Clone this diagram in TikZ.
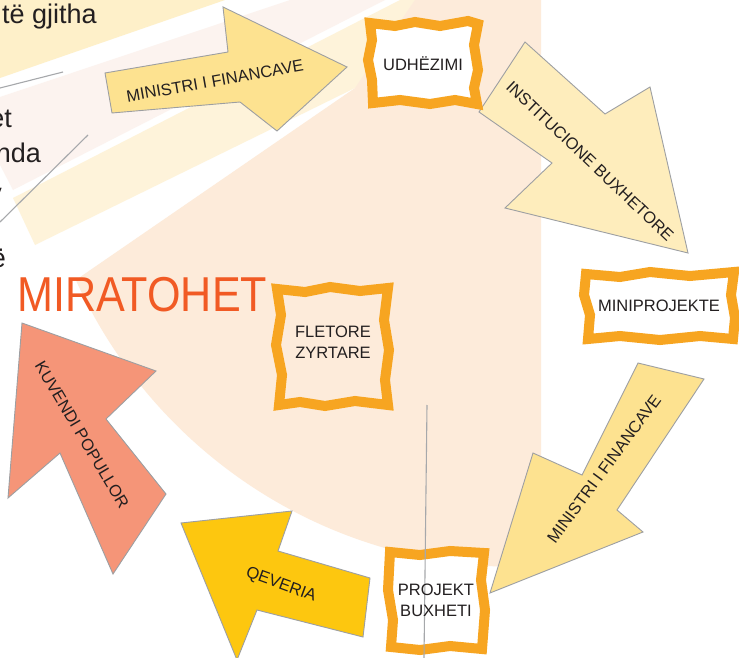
\documentclass[tikz,border=0pt]{standalone}
\usepackage{fontspec}
\setmainfont{Liberation Sans}
\definecolor{peach}{HTML}{FDEBDA}
\definecolor{rayA}{HTML}{FEF0C9}
\definecolor{rayB}{HTML}{FCF3EF}
\definecolor{rayC}{HTML}{FEF3DA}
\definecolor{arrowgold}{HTML}{FDE290}
\definecolor{arrowpale}{HTML}{FEEDBC}
\definecolor{arrowdeep}{HTML}{FDC70F}
\definecolor{arrowsalmon}{HTML}{F59578}
\definecolor{frameorange}{HTML}{F7A521}
\definecolor{titlered}{HTML}{F15A24}
\definecolor{ink}{HTML}{231F20}
\definecolor{rule}{HTML}{A6A8AB}
\definecolor{arrowline}{HTML}{9D9FA2}
\begin{document}
\begin{tikzpicture}[x=1pt,y=-1pt,
  arrowshape/.style={draw=arrowline,line width=0.9pt,line join=miter},
  lbl/.style={font=\fontsize{16.5}{21}\selectfont,text=ink,inner sep=0pt,align=center},
  bgtext/.style={font=\fontsize{27}{32}\selectfont,text=ink,inner sep=0pt},
  framebox/.style={draw=frameorange,line width=10pt,line join=miter,miter limit=3},
  thinrule/.style={draw=rule,line width=1.1pt}]
\useasboundingbox (0,0) rectangle (739,658);
\clip (0,0) rectangle (739,658);
\fill[white] (0,0) rectangle (739,658);
% background rays
\fill[rayA] (0,0) -- (225,0) -- (0,78) -- cycle;
\fill[rayB] (0,97) -- (290,0) -- (385,0) -- (13,190) -- (0,165) -- cycle;
\fill[rayC] (13,198) -- (400,0) -- (480,0) -- (355,88) -- (35,245) -- cycle;
\begin{scope}
  \clip (-122,416) -- (355,88) -- (415,0) -- (541,0) -- (541,700) -- (-122,700) -- cycle;
  \fill[peach] (520,80) circle[radius=487pt];
\end{scope}
% clipped background words
\node[bgtext,anchor=base west] (w1) at (2,24) {të gjitha};
\node[bgtext,anchor=base east] (w2) at (12,128) {et};
\node[bgtext,anchor=base east] (w3) at (41,163) {nda};
\node[bgtext,anchor=base east] (w4) at (2,202) {v};
\node[bgtext,anchor=base east] (w5) at (6,267) {ë};
% thin rules
\coordinate (r1a) at (0,88); \coordinate (r1b) at (63,72);
\coordinate (r2a) at (0,222); \coordinate (r2b) at (88,135);
\draw[thinrule] (r1a) -- (r1b);
\draw[thinrule] (r2a) -- (r2b);
% arrows
\filldraw[arrowshape,fill=arrowgold] (112,113) -- (105,73) -- (228,52) -- (223,7) -- (347,67) -- (277,131) -- (240,102) -- cycle;
\filldraw[arrowshape,fill=arrowpale] (525,42) -- (605,114) -- (650,87) -- (688,253) -- (505,208) -- (552,163) -- (479,112) -- cycle;
\filldraw[arrowshape,fill=arrowgold] (638,363) -- (704,379) -- (617,510) -- (643,532) -- (490,593) -- (533,453) -- (582,475) -- cycle;
\filldraw[arrowshape,fill=arrowdeep] (370,578) -- (363,637) -- (257,610) -- (237,660) -- (181,523) -- (292,511) -- (278,551) -- cycle;
\filldraw[arrowshape,fill=arrowsalmon] (22,323) -- (156,371) -- (106,419) -- (166,494) -- (113,574) -- (60,453) -- (8,498) -- cycle;
% frames
\filldraw[framebox,fill=white] (370,23) -- (395,26) -- (415,22) -- (440,26) -- (468,21) -- (478,24) -- (474,45) -- (478,70) -- (474,88) -- (477,104) -- (455,100) -- (430,104) -- (400,100) -- (373,103) -- (372,80) -- (368,60) -- (372,40) -- cycle;
\filldraw[framebox,fill=white] (586,274) -- (620,277) -- (650,272) -- (690,276) -- (734,272) -- (731,295) -- (735,318) -- (733,339) -- (700,336) -- (660,340) -- (620,336) -- (588,339) -- (590,315) -- (584,295) -- cycle;
\draw[framebox] (277,289) -- (305,292) -- (330,287) -- (360,291) -- (388,288) -- (384,320) -- (389,350) -- (385,380) -- (388,405) -- (355,401) -- (325,406) -- (300,402) -- (279,405) -- (282,375) -- (276,345) -- (281,315) -- cycle;
\filldraw[framebox,fill=white] (390,552) -- (420,555) -- (450,551) -- (484,553) -- (481,580) -- (485,610) -- (482,649) -- (450,646) -- (420,650) -- (391,647) -- (393,620) -- (388,590) -- cycle;
% vertical rule
\coordinate (r3a) at (427,405); \coordinate (r3b) at (424,658);
\draw[thinrule] (r3a) -- (r3b);
% labels
\node[lbl] (udh) at (423,64) {UDHËZIMI};
\node[lbl] (mini) at (659,306) {MINIPROJEKTE};
\node[lbl] (flet) at (333,342) {FLETORE\\ZYRTARE};
\node[lbl] (proj) at (436,600) {PROJEKT\\BUXHETI};
\node[lbl,rotate=10] (a1) at (215,81) {MINISTRI I FINANCAVE};
\node[lbl,rotate=-43.5] (a2) at (590,161) {INSTITUCIONE BUXHETORE};
\node[lbl,rotate=53.6] (a3) at (604,469) {MINISTRI I FINANCAVE};
\node[lbl,rotate=-20] (a4) at (281,585) {QEVERIA};
\node[lbl,rotate=-59.3] (a5) at (82,435) {KUVENDI POPULLOR};
\node[anchor=base west,inner sep=0pt,text=titlered,font=\fontsize{49}{55}\selectfont] (mir) at (17,311) {\scalebox{0.88}[1]{MIRATOHET}};
\end{tikzpicture}
\end{document}
